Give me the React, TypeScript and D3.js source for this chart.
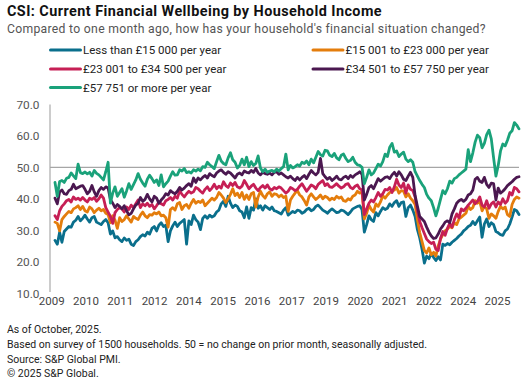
import React from "react";
import * as d3 from "d3";

// Monthly values, Jan 2009 .. Oct 2025 (202 months)
const under15k = [
  26.8, 25.6, 29.4, 26.2, 29.6, 30.4, 31.2, 31.0, 32.6, 33.2, 34.4, 33.0,
  33.8, 34.8, 33.6, 32.6, 34.0, 34.4, 32.6, 32.2, 31.8, 32.8, 33.4, 32.4,
  28.8, 29.8, 27.6, 28.0, 27.0, 26.4, 27.6, 26.8, 27.2, 25.6, 25.2, 26.4,
  27.0, 28.0, 28.6, 28.2, 29.4, 28.8, 30.6, 31.2, 29.8, 31.6, 32.4, 31.2,
  31.6, 26.4, 29.8, 31.4, 32.6, 31.2, 32.2, 32.8, 33.4, 25.6, 33.0, 31.8,
  34.8, 33.4, 32.6, 30.2, 33.8, 34.6, 33.8, 34.8, 34.2, 34.6, 35.8, 36.4,
  38.4, 39.2, 37.6, 40.8, 38.6, 37.2, 38.0, 37.6, 36.2, 35.8, 34.0, 37.4,
  33.8, 37.2, 36.4, 40.0, 37.0, 37.8, 36.4, 37.8, 37.2, 36.6, 37.4, 36.2,
  36.0, 35.6, 35.2, 36.4, 37.2, 34.8, 35.4, 36.0, 35.6, 36.4, 36.2, 35.4,
  35.8, 36.6, 37.0, 36.2, 36.6, 37.6, 38.0, 37.2, 36.4, 36.0, 35.4, 36.2,
  36.8, 36.2, 35.6, 35.8, 36.4, 36.2, 35.6, 35.0, 35.8, 36.8, 37.2, 37.6,
  37.8, 36.6, 29.4, 31.8, 34.6, 33.4, 32.8, 35.6, 34.6, 36.0, 37.2, 36.6,
  37.0, 38.4, 37.6, 38.8, 39.4, 37.6, 38.8, 39.0, 34.4, 37.2, 38.0, 36.4,
  34.4, 30.2, 27.6, 24.0, 19.6, 21.8, 21.0, 22.6, 21.4, 20.4, 21.6, 20.6,
  25.6, 25.2, 25.8, 25.4, 26.2, 26.8, 27.4, 28.2, 28.8, 29.8, 30.4, 31.2,
  31.6, 32.8, 31.8, 33.0, 34.2, 27.8, 32.0, 33.6, 31.2, 32.4, 31.8, 29.6,
  29.2, 28.6, 28.4, 29.8, 30.4, 32.0, 34.2, 36.6, 36.2, 35.0,
];

const from15to23k = [
  32.6, 32.2, 29.8, 33.4, 34.4, 35.2, 36.0, 35.6, 36.8, 37.2, 37.8, 36.6,
  37.6, 36.2, 35.8, 37.4, 36.8, 35.6, 36.4, 37.0, 36.2, 36.6, 35.4, 35.0,
  32.4, 34.6, 33.2, 30.6, 34.0, 32.8, 33.4, 34.6, 33.6, 32.6, 34.4, 33.8,
  33.4, 34.8, 35.8, 34.6, 34.0, 35.0, 34.8, 35.6, 35.2, 35.8, 34.6, 34.8,
  34.0, 31.0, 36.6, 37.2, 36.4, 38.4, 38.8, 36.6, 37.8, 38.2, 37.0, 38.6,
  39.8, 38.6, 39.2, 38.8, 39.6, 37.8, 38.6, 39.4, 40.2, 39.6, 40.4, 42.0,
  41.2, 40.2, 38.8, 40.0, 41.4, 43.2, 41.0, 41.8, 40.4, 42.0, 39.8, 41.2,
  39.8, 41.6, 42.0, 37.4, 40.6, 42.4, 41.0, 40.2, 41.6, 42.2, 40.8, 41.6,
  41.4, 40.6, 41.2, 40.4, 40.8, 36.0, 39.6, 40.8, 41.8, 42.6, 41.2, 40.6,
  39.4, 38.0, 40.6, 41.6, 40.6, 39.8, 40.4, 41.2, 40.0, 40.8, 40.4, 39.6,
  40.2, 39.8, 40.8, 40.2, 40.6, 39.4, 39.2, 40.0, 39.6, 40.8, 41.2, 42.4,
  41.8, 42.2, 33.6, 35.4, 38.0, 36.6, 35.8, 38.4, 37.6, 39.0, 41.0, 40.2,
  41.2, 42.0, 42.4, 42.8, 43.6, 41.8, 42.6, 42.4, 40.6, 41.6, 40.2, 39.4,
  38.2, 33.4, 29.2, 26.4, 23.6, 22.8, 24.4, 22.2, 23.0, 21.8, 25.0, 27.2,
  28.6, 29.8, 30.4, 31.2, 30.8, 32.4, 31.8, 33.6, 34.2, 34.8, 35.4, 37.6,
  36.6, 37.2, 39.4, 38.6, 39.2, 36.2, 37.6, 36.8, 33.8, 35.2, 34.6, 33.8,
  36.0, 37.6, 36.8, 37.4, 35.0, 34.4, 38.2, 39.8, 40.6, 40.2,
];

const from23to34k = [
  34.6, 33.4, 36.2, 37.6, 38.4, 39.4, 39.8, 39.0, 40.6, 39.8, 40.2, 39.6,
  40.4, 39.6, 39.0, 40.2, 39.8, 40.4, 39.2, 40.0, 41.2, 40.2, 37.2, 35.8,
  34.4, 32.2, 35.6, 36.6, 37.2, 36.8, 35.8, 37.4, 36.6, 38.0, 37.2, 38.4,
  39.6, 37.2, 38.4, 37.8, 38.6, 37.6, 38.2, 36.8, 37.8, 39.0, 38.4, 38.0,
  39.4, 39.8, 40.4, 39.6, 40.8, 40.2, 42.6, 41.4, 40.6, 41.6, 42.4, 41.8,
  42.2, 43.6, 43.2, 42.4, 41.8, 43.0, 43.8, 42.6, 43.4, 44.6, 43.2, 44.0,
  43.4, 45.4, 44.2, 43.6, 45.0, 44.2, 45.2, 43.8, 43.4, 44.0, 45.8, 44.6,
  43.2, 44.0, 44.6, 43.4, 42.6, 43.6, 44.2, 43.4, 44.4, 43.2, 42.8, 43.6,
  43.2, 43.8, 43.4, 42.6, 41.8, 42.4, 43.6, 43.2, 42.6, 43.0, 44.0, 44.8,
  43.6, 42.4, 43.4, 44.4, 44.0, 43.2, 44.6, 45.2, 45.8, 44.2, 44.8, 43.8,
  43.6, 44.2, 44.8, 44.0, 43.4, 43.8, 44.6, 44.8, 43.6, 43.2, 44.0, 44.4,
  43.2, 42.8, 35.0, 36.8, 38.6, 39.6, 39.0, 40.4, 42.0, 40.8, 41.6, 43.0,
  42.8, 43.6, 42.0, 43.8, 46.2, 44.4, 43.6, 45.0, 41.8, 44.4, 43.0, 42.6,
  40.6, 36.2, 32.8, 30.8, 29.0, 27.2, 26.4, 25.8, 26.2, 24.0, 23.6, 27.4,
  29.6, 28.4, 30.6, 32.2, 31.0, 33.4, 35.2, 34.0, 36.8, 36.2, 37.0, 38.0,
  38.8, 39.6, 38.4, 39.2, 40.6, 38.0, 37.4, 39.4, 37.0, 38.4, 39.0, 37.4,
  39.0, 38.2, 40.0, 38.6, 39.4, 42.0, 41.2, 43.6, 43.2, 42.2,
];

const from34to57k = [
  40.2, 38.4, 42.2, 42.8, 41.6, 41.4, 42.6, 43.0, 44.6, 43.2, 43.6, 44.0,
  44.2, 43.0, 41.6, 42.4, 44.2, 42.2, 40.8, 42.6, 43.6, 43.0, 43.8, 43.4,
  39.8, 38.6, 37.2, 38.2, 37.6, 36.8, 37.8, 36.2, 34.9, 35.4, 36.8, 38.0,
  38.6, 40.4, 39.2, 39.8, 41.4, 40.0, 39.0, 40.8, 40.2, 38.6, 39.6, 40.4,
  41.6, 41.2, 42.6, 42.0, 41.6, 42.4, 43.6, 42.8, 43.4, 44.2, 44.8, 44.0,
  46.6, 45.2, 46.6, 46.0, 46.8, 47.4, 46.6, 48.0, 47.4, 47.0, 48.2, 48.8,
  49.2, 48.4, 47.8, 48.6, 48.2, 47.4, 46.6, 47.8, 48.2, 47.6, 48.8, 48.4,
  48.2, 49.0, 48.4, 49.6, 48.2, 47.6, 48.4, 48.0, 47.8, 48.2, 47.6, 48.4,
  48.6, 47.8, 48.2, 47.6, 47.0, 46.6, 47.2, 46.4, 45.8, 46.8, 46.0, 46.8,
  47.4, 46.4, 47.8, 49.0, 48.2, 47.6, 48.4, 52.8, 48.0, 47.0, 46.2, 46.8,
  45.8, 46.4, 47.2, 46.2, 46.0, 46.8, 47.2, 46.4, 47.4, 46.8, 47.6, 48.0,
  48.6, 47.8, 39.6, 41.4, 43.6, 44.2, 43.2, 44.8, 46.4, 45.6, 46.2, 46.8,
  47.0, 46.4, 47.6, 48.4, 47.2, 48.6, 47.6, 46.2, 45.8, 47.2, 48.4, 46.8,
  41.0, 37.6, 34.4, 33.6, 32.8, 31.0, 29.4, 28.2, 27.4, 27.6, 28.8, 30.4,
  31.4, 32.6, 33.0, 32.4, 35.2, 36.8, 38.6, 39.4, 39.8, 39.2, 39.8, 41.2,
  41.6, 42.8, 46.2, 46.8, 45.6, 45.2, 46.8, 44.6, 43.6, 45.0, 44.8, 39.6,
  43.4, 41.8, 42.4, 43.2, 44.2, 44.8, 45.4, 46.2, 46.8, 47.0,
];

const over57k = [
  45.2, 40.8, 45.5, 45.8, 45.2, 46.5, 46.8, 48.2, 47.3, 46.4, 51.0, 48.3,
  48.0, 48.5, 47.9, 48.4, 47.2, 49.0, 48.1, 47.6, 46.8, 46.0, 48.6, 51.6,
  38.6, 41.8, 43.8, 40.8, 42.0, 43.2, 40.5, 42.5, 44.8, 43.0, 44.5, 46.0,
  48.0, 46.2, 45.0, 44.0, 46.2, 47.5, 46.4, 45.2, 46.0, 44.2, 47.6, 43.8,
  44.8, 45.6, 47.2, 48.6, 47.5, 47.6, 49.2, 48.8, 49.6, 48.3, 48.6, 48.2,
  49.2, 48.8, 49.4, 48.9, 50.2, 50.0, 51.6, 50.8, 50.2, 49.6, 51.8, 53.8,
  52.0, 51.2, 50.8, 53.0, 54.6, 52.4, 51.6, 49.8, 50.6, 52.6, 50.8, 53.2,
  50.2, 51.8, 50.6, 51.2, 53.6, 49.8, 48.6, 49.4, 48.4, 48.8, 49.0, 48.6,
  49.4, 48.8, 49.6, 50.2, 54.2, 49.2, 50.6, 49.8, 50.2, 50.8, 50.4, 51.6,
  51.2, 52.0, 50.8, 52.6, 51.4, 53.2, 55.0, 54.0, 53.6, 55.4, 55.2, 53.8,
  53.4, 54.4, 53.0, 52.4, 53.8, 54.2, 52.8, 51.8, 52.2, 53.2, 51.6, 50.8,
  50.6, 50.0, 44.8, 46.8, 49.2, 47.6, 48.2, 49.6, 51.0, 50.4, 51.8, 54.2,
  53.4, 56.4, 57.6, 54.8, 55.2, 53.4, 54.2, 54.8, 52.6, 51.8, 52.4, 51.6,
  48.6, 47.2, 45.8, 44.6, 43.6, 41.4, 40.2, 39.4, 37.2, 34.6, 37.0, 39.8,
  42.6, 41.6, 43.2, 45.6, 45.0, 46.4, 46.8, 47.6, 48.2, 48.8, 49.4, 55.6,
  51.8, 54.6, 58.0, 60.2, 59.4, 56.2, 57.6, 60.4, 61.8, 59.0, 53.0, 47.2,
  50.6, 55.2, 57.4, 56.8, 58.6, 60.8, 61.6, 64.2, 63.4, 62.2,
];

const seriesNames = [
  "Less than £15 000 per year",
  "£15 001 to £23 000 per year",
  "£23 001 to £34 500 per year",
  "£34 501 to £57 750 per year",
  "£57 751 or more per year",
];
const seriesColors = ["#0a6f8c", "#e47d0c", "#c61f55", "#4b1850", "#1aa27a"];
const seriesData = [under15k, from15to23k, from23to34k, from34to57k, over57k];

const xTickLabels = [
  "2009", "2010", "2011", "2012", "2014", "2015", "2016",
  "2017", "2019", "2020", "2021", "2022", "2024", "2025",
];
const yTicks = [10, 20, 30, 40, 50, 60, 70];

const title = "CSI: Current Financial Wellbeing by Household Income";
const subtitle =
  "Compared to one month ago, how has your household's financial situation changed?";
const footnotes = [
  "As of October, 2025.",
  "Based on survey of 1500 households. 50 = no change on prior month, seasonally adjusted.",
  "Source: S&P Global PMI.",
  "© 2025 S&P Global.",
];

const W = 527;
const H = 383;
const FONT = "Roboto, 'Liberation Sans', Arial, sans-serif";

export default function App() {
  const n = under15k.length;
  const x = d3.scaleLinear().domain([0, n - 1]).range([55, 519]);
  const y = d3.scaleLinear().domain([10, 70]).range([293.3, 104.3]);
  const xLab = d3.scalePoint<string>().domain(xTickLabels).range([51.7, 497.5]);
  const line = d3
    .line<number>()
    .x((_, i) => x(i))
    .y((d) => y(d));

  const legendPos = [
    [50.5, 50],
    [313, 50],
    [50.5, 69],
    [313, 69],
    [50.5, 87.5],
  ];

  return (
    <svg
      width={W}
      height={H}
      viewBox={`0 0 ${W} ${H}`}
      style={{ position: "absolute", left: 0, top: 0, background: "#fff" }}
      fontFamily={FONT}
    >
      <rect x={0} y={0} width={W} height={H} fill="#fff" />
      <text x={7} y={15.5} fontSize={14.4} fontWeight={700} fill="#111" letterSpacing={0.45}>
        {title}
      </text>
      <text x={7} y={33.3} fontSize={12.2} fill="#555" letterSpacing={0.3}>
        {subtitle}
      </text>

      {seriesNames.map((name, i) => (
        <g key={name}>
          <line
            x1={legendPos[i][0]}
            x2={legendPos[i][0] + 30}
            y1={legendPos[i][1]}
            y2={legendPos[i][1]}
            stroke={seriesColors[i]}
            strokeWidth={3}
            strokeLinecap="round"
          />
          <text
            x={legendPos[i][0] + 32.5}
            y={legendPos[i][1] + 4}
            fontSize={11.5}
            fill="#222"
          >
            {name}
          </text>
        </g>
      ))}

      {yTicks.map((t) => (
        <text
          key={t}
          x={39.5}
          y={y(t) + 4.3}
          fontSize={11.8}
          textAnchor="end"
          fill="#555"
        >
          {t.toFixed(1)}
        </text>
      ))}
      <line x1={50} x2={50} y1={104.5} y2={292} stroke="#999" strokeWidth={1} />
      <line x1={50} x2={519} y1={y(50)} y2={y(50)} stroke="#a6a6a6" strokeWidth={1.2} />

      {xTickLabels.map((l) => (
        <text
          key={l}
          x={xLab(l)}
          y={304.5}
          fontSize={11.5}
          textAnchor="middle"
          fill="#444"
        >
          {l}
        </text>
      ))}

      {seriesData.map((s, i) => (
        <path
          key={seriesNames[i]}
          d={line(s) || ""}
          fill="none"
          stroke={seriesColors[i]}
          strokeWidth={2.8}
          strokeLinejoin="round"
          strokeLinecap="round"
        />
      ))}

      {footnotes.map((f, i) => (
        <text key={i} x={7} y={333.3 + i * 14.7} fontSize={10.5} fill="#222">
          {f}
        </text>
      ))}
    </svg>
  );
}
